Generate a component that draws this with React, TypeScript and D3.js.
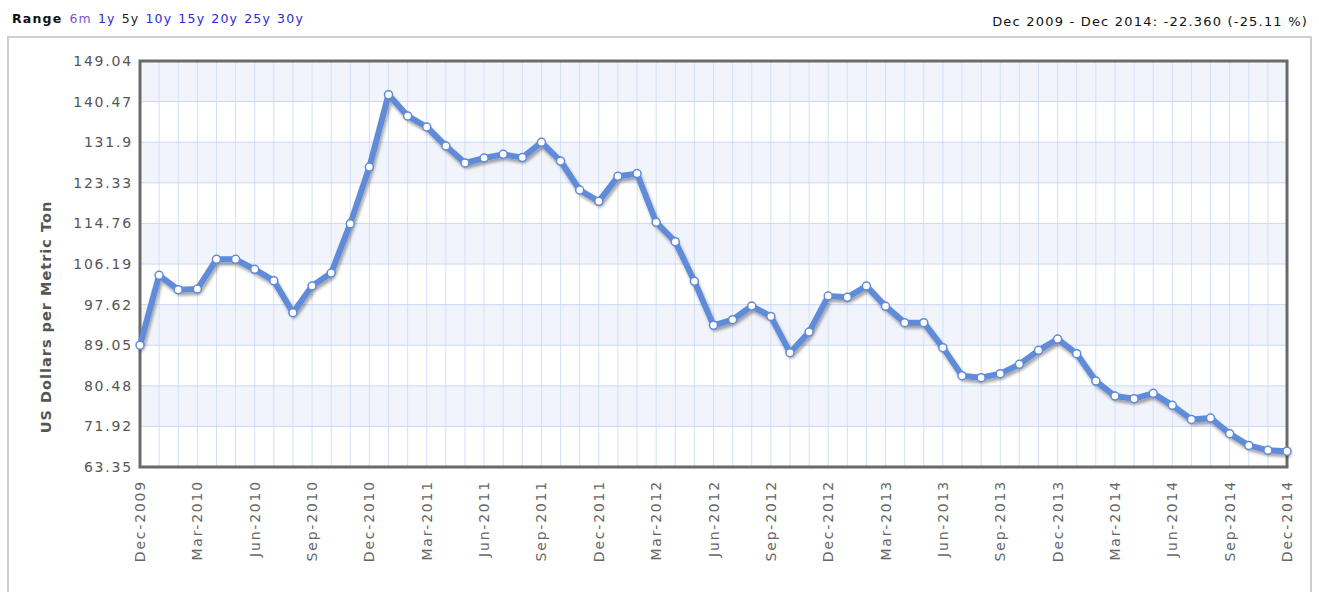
import React from "react"
import * as d3 from "d3"

// monthly prices, Dec 2009 .. Dec 2014
const prices = [
    89.05, 103.8, 100.78, 100.9, 107.18, 107.18, 105.07, 102.68, 95.93, 101.54, 104.29, 114.71, 126.66,
    141.94, 137.44, 135.11, 131.1, 127.51, 128.56, 129.34, 128.65, 131.88, 127.93, 121.81, 119.42,
    124.7, 125.27, 114.99, 110.91, 102.54, 93.25, 94.45, 97.32, 95.14, 87.48, 91.83, 99.43,
    99.16, 101.54, 97.26, 93.82, 93.82, 88.54, 82.63, 82.2, 83.05, 85.01, 87.97, 90.35,
    87.27, 81.49, 78.32, 77.77, 78.89, 76.36, 73.4, 73.68, 70.38, 67.91, 66.86, 66.69
]

const xLabels = [
    "Dec-2009", "Mar-2010", "Jun-2010", "Sep-2010", "Dec-2010", "Mar-2011", "Jun-2011",
    "Sep-2011", "Dec-2011", "Mar-2012", "Jun-2012", "Sep-2012", "Dec-2012", "Mar-2013",
    "Jun-2013", "Sep-2013", "Dec-2013", "Mar-2014", "Jun-2014", "Sep-2014", "Dec-2014"
]

const yTicks = [63.35, 71.92, 80.48, 89.05, 97.62, 106.19, 114.76, 123.33, 131.9, 140.47, 149.04]

const rangeLinks = ["6m", "1y", "5y", "10y", "15y", "20y", "25y", "30y"]
const selectedRange = "5y"
const summary = "Dec 2009 - Dec 2014: -22.360 (-25.11 %)"
const yTitle = "US Dollars per Metric Ton"

const width = 1319
const height = 592
const plot = { left: 140, right: 1287, top: 61, bottom: 467 }

export default function App() {
    const x = d3.scaleLinear()
        .domain([0, prices.length - 1])
        .range([plot.left, plot.right])

    const y = d3.scaleLinear()
        .domain([yTicks[0], yTicks[yTicks.length - 1]])
        .range([plot.bottom, plot.top])

    const line = d3.line<number>()
        .x((d, i) => x(i))
        .y(d => y(d))

    const font = "'DejaVu Sans', Verdana, sans-serif"

    return (
        <svg width={width} height={height} style={{ position: "absolute", left: 0, top: 0 }}>
            <defs>
                <filter id="shadow" x="-5%" y="-5%" width="110%" height="120%">
                    <feDropShadow dx="1.5" dy="3" stdDeviation="1.6" floodColor="#000" floodOpacity="0.35" />
                </filter>
            </defs>
            <rect width={width} height={height} fill="#fff" />

            {/* header */}
            <text x={12} y={23} fontFamily={font} fontSize={12.5} letterSpacing={1.2}>
                <tspan fontWeight="bold" fill="#111">Range</tspan>
                {rangeLinks.map((r, i) => (
                    <tspan key={r} dx={i === 0 ? 7 : 6}
                        fill={r === selectedRange ? "#222" : (r === "6m" ? "#7b52c9" : "#2a2ad6")}>{r}</tspan>
                ))}
            </text>
            <text x={1308} y={26} textAnchor="end" fontFamily={font} fontSize={13} letterSpacing={1.2} fill="#111">{summary}</text>

            {/* outer frame */}
            <rect x={8} y={37} width={1303} height={600} fill="none" stroke="#cfcfcf" strokeWidth={2} />

            {/* alternating bands */}
            {yTicks.slice(0, -1).map((t, i) => (
                <rect key={"b" + i}
                    x={plot.left} width={plot.right - plot.left}
                    y={y(yTicks[i + 1])} height={y(t) - y(yTicks[i + 1])}
                    fill={(yTicks.length - 2 - i) % 2 === 0 ? "#f2f4fc" : "#fff"} />
            ))}

            {/* vertical grid, every month */}
            {prices.map((d, i) => (
                <line key={"v" + i} x1={x(i)} x2={x(i)} y1={plot.top} y2={plot.bottom}
                    stroke="#d3e0f8" strokeWidth={1} />
            ))}
            {/* horizontal grid */}
            {yTicks.map(t => (
                <line key={"h" + t} x1={plot.left} x2={plot.right} y1={y(t)} y2={y(t)}
                    stroke="#c9d8f5" strokeWidth={1} />
            ))}

            {/* plot border */}
            <rect x={plot.left} y={plot.top} width={plot.right - plot.left} height={plot.bottom - plot.top}
                fill="none" stroke="#6a6a6a" strokeWidth={3} />

            {/* y axis */}
            {yTicks.map(t => (
                <text key={"yl" + t} x={133} y={y(t)} textAnchor="end" dominantBaseline="central"
                    fontFamily={font} fontSize={14} letterSpacing={1.8} fill="#555">{t}</text>
            ))}
            <text transform={`translate(46,${(plot.top + plot.bottom) / 2 + 53}) rotate(-90)`}
                textAnchor="middle" dominantBaseline="central"
                fontFamily={font} fontSize={14.5} letterSpacing={1} fontWeight="bold" fill="#555">{yTitle}</text>

            {/* x axis */}
            {xLabels.map((l, i) => (
                <text key={l} transform={`translate(${x(i * 3)},480) rotate(-90)`}
                    textAnchor="end" dominantBaseline="central"
                    fontFamily={font} fontSize={14} letterSpacing={1.8} fill="#666">{l}</text>
            ))}

            {/* series */}
            <g filter="url(#shadow)">
                <path d={line(prices) ?? ""} fill="none" stroke="#5f8bd9" strokeWidth={6}
                    strokeLinejoin="round" strokeLinecap="round" />
            </g>
            {prices.map((d, i) => (
                <circle key={"p" + i} cx={x(i)} cy={y(d)} r={4}
                    fill="#fff" stroke="#5f8bd9" strokeWidth={1.5} />
            ))}
        </svg>
    )
}
